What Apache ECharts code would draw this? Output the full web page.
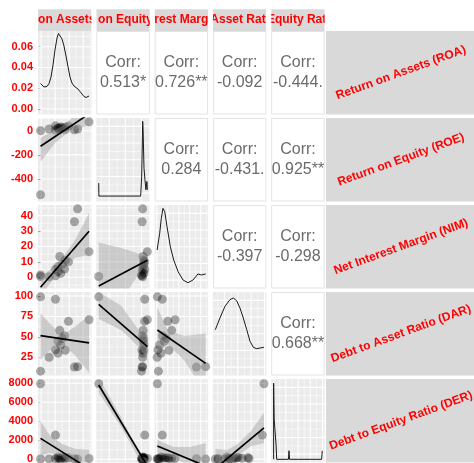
<!DOCTYPE html>
<html>
<head>
<meta charset="utf-8">
<script src="https://cdn.jsdelivr.net/npm/echarts@6/dist/echarts.min.js"></script>
<style>
html,body{margin:0;padding:0;background:#ffffff;}
#chart{width:474px;height:463px;}
</style>
</head>
<body>
<div id="chart"></div>
<script>
// ---- variables (one entry per bank observation) ----
const varNames = ['Return on Assets (ROA)', 'Return on Equity (ROE)', 'Net Interest Margin (NIM)',
                  'Debt to Asset Ratio (DAR)', 'Debt to Equity Ratio (DER)'];

const roa = [-0.0008, 0.0205, 0.0683, 0.0520, 0.0475, -0.0008, 0.0390, 0.0265, 0.0335, 0.0240, 0.0205, 0.0240, 0.0345, 0.0115, 0.0300, 0.0280];
const roe = [-530, 40, 73, 14, 8, 0, 38, 20, 10, 22, 5, 18, 28, 14, 25, 30];
const nim = [0.5, 5.0, 16.6, 44.4, 36.0, 1.5, 10.0, 13.5, 5.3, 6.9, 1.0, 3.7, 11.0, 0.3, 8.5, 2.5];
const dar = [99, 96, 71, 13.5, 13, 8, 69, 58, 51, 44.5, 34, 30, 33.5, 25, 48, 40];
const der = [7950, 2550, 80, 20, 60, 30, 150, 100, 200, 120, 60, 250, 90, 40, 170, 10];

// ---- tick values ----
const roaMajor = [0, 0.02, 0.04, 0.06];
const roaMinor = [0.01, 0.03, 0.05, 0.07];
const roeMajor = [-400, -200, 0];
const roeMinor = [-500, -300, -100, 100];
const nimMajor = [0, 10, 20, 30, 40];
const nimMinor = [-5, 5, 15, 25, 35, 45];
const darMajor = [25, 50, 75, 100];
const darMinor = [12.5, 37.5, 62.5, 87.5];
const derMajor = [0, 2000, 4000, 6000, 8000];
const derMinor = [1000, 3000, 5000, 7000];
const densMajor = [10, 30, 50, 70, 90];
const densMinor = [0, 20, 40, 60, 80, 100];

// ---- correlation labels (upper triangle) ----
const corrCells = [[0, 1], [0, 2], [0, 3], [0, 4], [1, 2], [1, 3], [1, 4], [2, 3], [2, 4], [3, 4]];
const corrText = ['0.513*', '0.726**', '-0.092', '-0.444.', '0.284', '-0.431.', '0.925***', '-0.397', '-0.298', '0.668**'];

// ---- kernel density outlines on the diagonal ----
const roaDensity = [[-0.0008,0.0245],[0.0013,0.0226],[0.0041,0.0212],[0.0063,0.0207],[0.0084,0.0217],[0.0113,0.0245],
  [0.0141,0.0308],[0.0170,0.0424],[0.0198,0.0568],[0.0227,0.0684],[0.0248,0.0727],[0.0269,0.0717],[0.0298,0.0674],
  [0.0326,0.0607],[0.0355,0.0510],[0.0383,0.0409],[0.0412,0.0308],[0.0440,0.0250],[0.0469,0.0221],[0.0497,0.0207],
  [0.0526,0.0192],[0.0554,0.0168],[0.0583,0.0144],[0.0611,0.0120],[0.0640,0.0111],[0.0668,0.0115],[0.0683,0.0125]];
const roeDensity = [[-530,22],[-528,6.5],[-10,6.5],[2,29],[15,96],[20,86],[31,40],[43,26],[55,14],[67,24],[73,14]];
const nimDensity = [[0.3,46],[2.6,66],[4.1,84],[5.6,96],[7.2,92],[9.3,74],[12.3,50],[15.4,34],[19.4,20],[23.8,10.2],
  [28.3,6.9],[32.9,10.2],[37.4,17.4],[40.4,16.2],[44.4,17.4]];
const darDensity = [[8,54.9],[16.7,68.9],[26.1,82.9],[35.4,90.8],[41.6,92.8],[47.9,89.6],[54.1,80.8],[60.3,68.9],
  [66.7,54.9],[72.9,41],[79,33.8],[85.4,32.1],[91.6,32.9],[99,33.8]];
const derDensity = [[0,3.8],[0,95],[60,95],[80,53],[380,53],[400,21],[480,21],[500,3.8],[2420,3.8],[2510,14],
  [2600,3.8],[7850,3.8],[7950,14]];

// ---- linear fits [x, y] and confidence bands [x, lower, upper] ----
const roeRoaFit = [[-0.0008, -129], [0.0683, 139]];
const roeRoaBand = [[-0.0008,-257,-60],[0.0198,-102,6],[0.0340,-36,51],[0.0483,6,129],[0.0683,47,228]];
const nimRoaFit = [[-0.0008, -6.5], [0.0683, 29.9]];
const nimRoaBand = [[-0.0008,-13,0.2],[0.0127,-4,5.1],[0.027,4,10.6],[0.0483,12.6,24.2],[0.0683,14.5,41.6]];
const darRoaFit = [[-0.0008, 51.5], [0.0683, 42.6]];
const darRoaBand = [[-0.0008,22,79],[0.0127,33.5,66],[0.0298,42,52],[0.0483,27.6,62.4],[0.0683,6,76]];
const derRoaFit = [[-0.0008, 2200], [0.0683, -1000]];
const derRoaBand = [[-0.0008,400,4000],[0.0127,700,2500],[0.0298,300,1600],[0.0483,-1000,1100],[0.0683,-2500,1000]];
const nimRoeFit = [[-530, -5.6], [73, 11]];
const nimRoeBand = [[-530,-34,22.5],[-250,-15,19],[18,6,14.5],[73,3.5,17.7]];
const darRoeFit = [[-530, 89.8], [73, 38]];
const darRoeBand = [[-530,72,105],[-250,58,88],[-10,35,55],[73,20,58]];
const derRoeFit = [[-530, 7820], [73, -692]];
const derRoeBand = [[-530,7000,8600],[-250,3370,4370],[-10,-300,350],[73,-1500,100]];
const darNimFit = [[0.5, 58.3], [44.4, 17.6]];
const darNimBand = [[0.5,30,86],[10,41,58],[25,21,51],[44.4,-19,54]];
const derNimFit = [[0.5, 1400], [44.4, -710]];
const derNimBand = [[0.5,630,2050],[15,200,1300],[30,-700,1300],[44.4,-2100,1700]];
const derDarFit = [[8, -965], [99, 3300]];
const derDarBand = [[8,-3000,1100],[30,-850,980],[50,400,1600],[75,1400,3000],[99,1700,4900]];

// ---- assembly ----
const vars = [roa, roe, nim, dar, der];
const majors = [roaMajor, roeMajor, nimMajor, darMajor, derMajor];
const minors = [roaMinor, roeMinor, nimMinor, darMinor, derMinor];
const densities = [roaDensity, roeDensity, nimDensity, darDensity, derDensity];
const xRanges = [[-0.0044, 0.0718], [-560, 103], [-2, 46.6], [3.45, 103.55], [-397, 8347]];
const yRanges = [[-0.0053, 0.0751], [-586, 105], [-7.3, 46.9], [2.7, 104.9], [-337, 8453]];
const labelFmt = [v => v.toFixed(2), v => String(v), v => String(v), v => String(v), v => String(v)];
const fitsByCell = {
  '1,0': [roeRoaFit, roeRoaBand], '2,0': [nimRoaFit, nimRoaBand], '3,0': [darRoaFit, darRoaBand],
  '4,0': [derRoaFit, derRoaBand], '2,1': [nimRoeFit, nimRoeBand], '3,1': [darRoeFit, darRoeBand],
  '4,1': [derRoeFit, derRoeBand], '3,2': [darNimFit, darNimBand], '4,2': [derNimFit, derNimBand],
  '4,3': [derDarFit, derDarBand]
};

const FONT = '"Liberation Sans", Arial, Helvetica, sans-serif';
const PW = 53.5, PH = 83.5;
const colLeft = c => 38 + c * 58.3;
const rowTop = r => 31 + r * 87;
const STRIP_TOP = 9.3, STRIP_H = 21.7;
const RIGHT_STRIP_X = 326;

const grids = [], xAxes = [], yAxes = [], series = [];

function inRange(v, rg) { return v > rg[0] && v < rg[1]; }

for (let r = 0; r < 5; r++) {
  for (let c = 0; c <= r; c++) {
    const gi = grids.length;
    const isDiag = r === c;
    const xr = xRanges[c];
    const yr = (isDiag && r > 0) ? [0, 100] : yRanges[r];
    const yMaj = (isDiag && r > 0) ? densMajor : majors[r];
    const yMin = (isDiag && r > 0) ? densMinor : minors[r];

    grids.push({
      left: colLeft(c), top: rowTop(r), width: PW, height: PH,
      show: true, backgroundColor: '#EBEBEB', borderWidth: 0,
      containLabel: false, outerBoundsMode: 'none'
    });
    xAxes.push({ type: 'value', gridIndex: gi, min: xr[0], max: xr[1], show: false });
    if (c === 0) {
      yAxes.push({
        type: 'value', gridIndex: gi, min: yr[0], max: yr[1],
        axisLine: { show: false },
        axisTick: { show: true, length: 3, lineStyle: { color: '#333333', width: 1 }, customValues: majors[r] },
        axisLabel: {
          show: true, customValues: majors[r], formatter: labelFmt[r], margin: 5,
          color: '#FF0000', fontWeight: 'bold', fontSize: 11, fontFamily: FONT
        },
        splitLine: { show: false }
      });
    } else {
      yAxes.push({ type: 'value', gridIndex: gi, min: yr[0], max: yr[1], show: false });
    }

    // panel grid lines: [value, width]
    const vLines = majors[c].filter(v => inRange(v, xr)).map(v => [v, 1.1])
      .concat(minors[c].filter(v => inRange(v, xr)).map(v => [v, 0.55]));
    const hLines = yMaj.filter(v => inRange(v, yr)).map(v => [v, 1.1])
      .concat(yMin.filter(v => inRange(v, yr)).map(v => [v, 0.55]));
    series.push({
      type: 'custom', xAxisIndex: gi, yAxisIndex: gi, z: 1, silent: true, clip: true,
      data: [[xr[0], yr[0]]],
      renderItem: (params, api) => {
        const children = [];
        vLines.forEach(([v, w]) => {
          const a = api.coord([v, yr[0]]), b = api.coord([v, yr[1]]);
          children.push({ type: 'line', shape: { x1: a[0], y1: a[1], x2: b[0], y2: b[1] }, style: { stroke: '#ffffff', lineWidth: w } });
        });
        hLines.forEach(([v, w]) => {
          const a = api.coord([xr[0], v]), b = api.coord([xr[1], v]);
          children.push({ type: 'line', shape: { x1: a[0], y1: a[1], x2: b[0], y2: b[1] }, style: { stroke: '#ffffff', lineWidth: w } });
        });
        return { type: 'group', children };
      }
    });

    if (isDiag) {
      series.push({
        type: 'line', xAxisIndex: gi, yAxisIndex: gi, z: 3, silent: true,
        data: densities[r], showSymbol: false, symbol: 'none',
        lineStyle: { color: '#1a1a1a', width: 1 }
      });
    } else {
      const pts = vars[c].map((v, i) => [v, vars[r][i]]);
      series.push({
        type: 'scatter', xAxisIndex: gi, yAxisIndex: gi, z: 3, silent: true,
        data: pts, symbolSize: 9, itemStyle: { color: 'rgba(0,0,0,0.4)' }
      });
      const [fit, band] = fitsByCell[r + ',' + c];
      series.push({
        type: 'custom', xAxisIndex: gi, yAxisIndex: gi, z: 4, silent: true, clip: true,
        data: [[fit[0][0], fit[0][1]]],
        renderItem: (params, api) => {
          const upper = band.map(b => api.coord([b[0], b[2]]));
          const lower = band.slice().reverse().map(b => api.coord([b[0], b[1]]));
          return { type: 'polygon', shape: { points: upper.concat(lower) }, style: { fill: 'rgba(153,153,153,0.4)' } };
        }
      });
      series.push({
        type: 'line', xAxisIndex: gi, yAxisIndex: gi, z: 5, silent: true, clip: true,
        data: fit, showSymbol: false, symbol: 'none',
        lineStyle: { color: '#000000', width: 1.7 }
      });
    }
  }
}

// ---- strips and correlation panels ----
const STRIP_FONT = 'bold 12px ' + FONT;
const measureCtx = document.createElement('canvas').getContext('2d');
measureCtx.font = STRIP_FONT;

// part of a centred label that shows inside a strip of the given width
function visiblePart(label, left, width) {
  const total = measureCtx.measureText(label).width;
  const start = left + width / 2 - total / 2;
  let text = '', x = null;
  for (let i = 0; i < label.length; i++) {
    const x0 = start + measureCtx.measureText(label.slice(0, i)).width;
    const x1 = start + measureCtx.measureText(label.slice(0, i + 1)).width;
    const shown = Math.min(x1, left + width) - Math.max(x0, left);
    if (shown >= 0.4 * (x1 - x0)) {
      if (x === null) x = x0;
      text += label[i];
    }
  }
  return { text, x };
}

const graphics = [];
for (let c = 0; c < 5; c++) {
  graphics.push({ type: 'rect', silent: true, z: 10,
    shape: { x: colLeft(c), y: STRIP_TOP, width: PW, height: STRIP_H }, style: { fill: '#D9D9D9' } });
  const vis = visiblePart(varNames[c], colLeft(c), PW);
  graphics.push({ type: 'text', silent: true, z: 11, x: vis.x, y: STRIP_TOP + STRIP_H / 2,
    style: { text: vis.text, fill: '#FF0000', font: STRIP_FONT,
      align: 'left', verticalAlign: 'middle', textAlign: 'left', textVerticalAlign: 'middle' } });
}
// white gaps between the column strips
for (let c = 0; c < 5; c++) {
  const gx = c === 0 ? 0 : colLeft(c - 1) + PW;
  graphics.push({ type: 'rect', silent: true, z: 12,
    shape: { x: gx, y: STRIP_TOP - 2, width: colLeft(c) - gx, height: STRIP_H + 2 }, style: { fill: '#ffffff' } });
}
graphics.push({ type: 'rect', silent: true, z: 12,
  shape: { x: colLeft(4) + PW, y: STRIP_TOP - 2, width: 474 - colLeft(4) - PW, height: STRIP_H + 1.5 }, style: { fill: '#ffffff' } });

for (let r = 0; r < 5; r++) {
  graphics.push({ type: 'rect', silent: true, z: 10,
    shape: { x: RIGHT_STRIP_X, y: rowTop(r), width: 160, height: PH }, style: { fill: '#D9D9D9' } });
  graphics.push({ type: 'text', silent: true, z: 11, x: 401, y: rowTop(r) + PH / 2,
    rotation: 20 * Math.PI / 180,
    style: { text: varNames[r], fill: '#FF0000', font: STRIP_FONT,
      align: 'center', verticalAlign: 'middle', textAlign: 'center', textVerticalAlign: 'middle' } });
}

corrCells.forEach(([r, c], k) => {
  graphics.push({ type: 'rect', silent: true, z: 10,
    shape: { x: colLeft(c) + 0.5, y: rowTop(r) + 0.5, width: PW - 1, height: PH - 1 },
    style: { fill: '#ffffff', stroke: '#E3E3E3', lineWidth: 1 } });
  graphics.push({ type: 'text', silent: true, z: 11, x: colLeft(c) + PW / 2, y: rowTop(r) + PH / 2,
    style: { text: 'Corr:\n' + corrText[k], fill: '#6b6b6b', font: '16px ' + FONT, lineHeight: 20,
      width: PW, overflow: 'truncate', ellipsis: '',
      align: 'center', verticalAlign: 'middle', textAlign: 'center', textVerticalAlign: 'middle' } });
});

const chart = echarts.init(document.getElementById('chart'), null, { renderer: 'canvas' });
chart.setOption({
  animation: false,
  backgroundColor: '#ffffff',
  grid: grids,
  xAxis: xAxes,
  yAxis: yAxes,
  series: series,
  graphic: { elements: graphics }
});
</script>
</body>
</html>
